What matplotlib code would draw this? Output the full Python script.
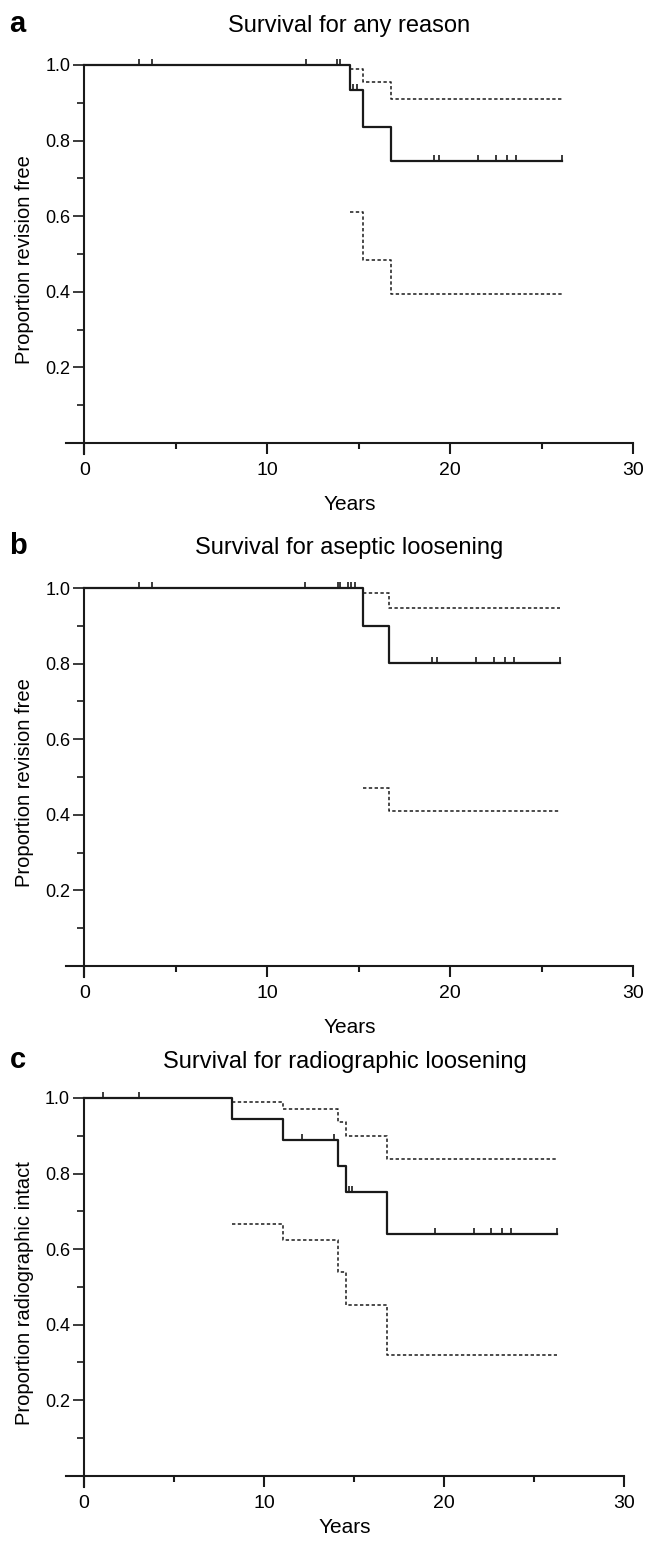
import numpy as np
import matplotlib
matplotlib.use("Agg")
from matplotlib import pyplot as plt
from matplotlib.path import Path

plt.rcParams["font.family"] = ["Liberation Sans", "DejaVu Sans"]

# panel a: survival for any reason
a_times = [0.0, 14.53, 15.25, 16.75]
a_surv = [1.0, 0.935, 0.835, 0.745]
a_upper_times = [14.53, 15.25, 16.75]
a_upper = [0.99, 0.955, 0.91]
a_lower = [0.61, 0.485, 0.395]
a_censor_times = [3.0, 3.7, 12.1, 13.8, 14.0, 14.7, 14.9, 19.1, 19.4, 21.5, 22.5, 23.1, 23.6, 26.1]
a_end = 26.1

# panel b: survival for aseptic loosening
b_times = [0.0, 15.24, 16.66]
b_surv = [1.0, 0.9, 0.802]
b_upper_times = [15.24, 16.66]
b_upper = [0.986, 0.946]
b_lower = [0.47, 0.41]
b_censor_times = [3.0, 3.7, 12.05, 13.85, 14.0, 14.4, 14.6, 14.8, 19.0, 19.3, 21.4, 22.4, 23.0, 23.5, 26.0]
b_end = 26.0

# panel c: survival for radiographic loosening
c_times = [0.0, 8.2, 11.05, 14.1, 14.55, 16.8]
c_surv = [1.0, 0.943, 0.888, 0.821, 0.75, 0.641]
c_upper_times = [8.2, 11.05, 14.1, 14.55, 16.8]
c_upper = [0.99, 0.971, 0.936, 0.9, 0.838]
c_lower = [0.666, 0.623, 0.539, 0.453, 0.32]
c_censor_times = [1.03, 3.03, 12.1, 13.9, 14.7, 14.9, 19.5, 21.65, 22.6, 23.2, 23.7, 26.24]
c_end = 26.24

titles = ["Survival for any reason", "Survival for aseptic loosening", "Survival for radiographic loosening"]
ylabels = ["Proportion revision free", "Proportion revision free", "Proportion radiographic intact"]
letters = ["a", "b", "c"]

CENSOR = Path([(0, 0), (0, 1)])
INK = "#1a1a1a"


def step_value(times, values, t):
    idx = np.searchsorted(times, t, side="right") - 1
    return values[idx]


def draw_panel(ax, times, surv, ci_times, upper, lower, censor_times, end,
               title, ylabel, letter, xlabelpad, title_y):
    ax.step(times + [end], surv + [surv[-1]], where="post", color=INK, linewidth=1.6, clip_on=False, zorder=3)
    for ci in (upper, lower):
        ax.step(ci_times + [end], ci + [ci[-1]], where="post", color=INK, linewidth=1.1,
                linestyle=(0, (2.2, 1.6)), clip_on=False, zorder=2)
    censor_y = [step_value(times, surv, t) for t in censor_times]
    ax.plot(censor_times, censor_y, linestyle="none", marker=CENSOR, markersize=9,
            markeredgewidth=1.2, color=INK, clip_on=False, zorder=3)

    ax.set_xlim(-1, 30)
    ax.set_ylim(-0.03, 1.0)
    ax.spines["left"].set_position(("data", 0))
    ax.spines["bottom"].set_position(("data", 0))
    ax.spines["top"].set_visible(False)
    ax.spines["right"].set_visible(False)
    for side in ("left", "bottom"):
        ax.spines[side].set_linewidth(1.5)
        ax.spines[side].set_color(INK)

    ax.set_xticks([0, 10, 20, 30])
    ax.set_xticks([5, 15, 25], minor=True)
    ax.set_yticks([0.2, 0.4, 0.6, 0.8, 1.0])
    ax.set_yticklabels(["0.2", "0.4", "0.6", "0.8", "1.0"])
    ax.set_yticks([0.1, 0.3, 0.5, 0.7, 0.9], minor=True)
    ax.tick_params(axis="x", which="major", direction="out", length=8, width=1.5, labelsize=14, pad=6, color=INK)
    ax.tick_params(axis="x", which="minor", direction="out", length=4.5, width=1.5, color=INK)
    ax.tick_params(axis="y", which="major", direction="out", length=8, width=1.2, labelsize=13, pad=2, color=INK)
    ax.tick_params(axis="y", which="minor", direction="out", length=5, width=1.2, color=INK)

    ax.set_xlabel("Years", fontsize=15, labelpad=xlabelpad)
    ax.set_ylabel(ylabel, fontsize=14.5, labelpad=8)
    ax.text(0.5, title_y, title, transform=ax.transAxes, ha="center", va="baseline", fontsize=17)
    ax.text(-0.1, title_y, letter, transform=ax.transAxes, ha="left", va="baseline", fontsize=21, fontweight="bold")


fig = plt.figure(figsize=(6.46, 15.41), dpi=100)
fig.patch.set_facecolor("white")

ax_h = 389.3 / 1541
bottoms = [0.7052, 0.3658, 0.0349]
widths = [567 / 646, 567 / 646, 558.4 / 646]
xlabelpads = [11, 11, 4]
title_ys = [1.085, 1.087, 1.078]
panels = [
    (a_times, a_surv, a_upper_times, a_upper, a_lower, a_censor_times, a_end),
    (b_times, b_surv, b_upper_times, b_upper, b_lower, b_censor_times, b_end),
    (c_times, c_surv, c_upper_times, c_upper, c_lower, c_censor_times, c_end),
]

for bottom, width, pad, ty, panel, title, ylabel, letter in zip(bottoms, widths, xlabelpads, title_ys,
                                                                  panels, titles, ylabels, letters):
    ax = fig.add_axes([66 / 646, bottom, width, ax_h])
    draw_panel(ax, *panel, title, ylabel, letter, pad, ty)

plt.savefig("out.png", dpi=100, facecolor="white")
plt.close(fig)
